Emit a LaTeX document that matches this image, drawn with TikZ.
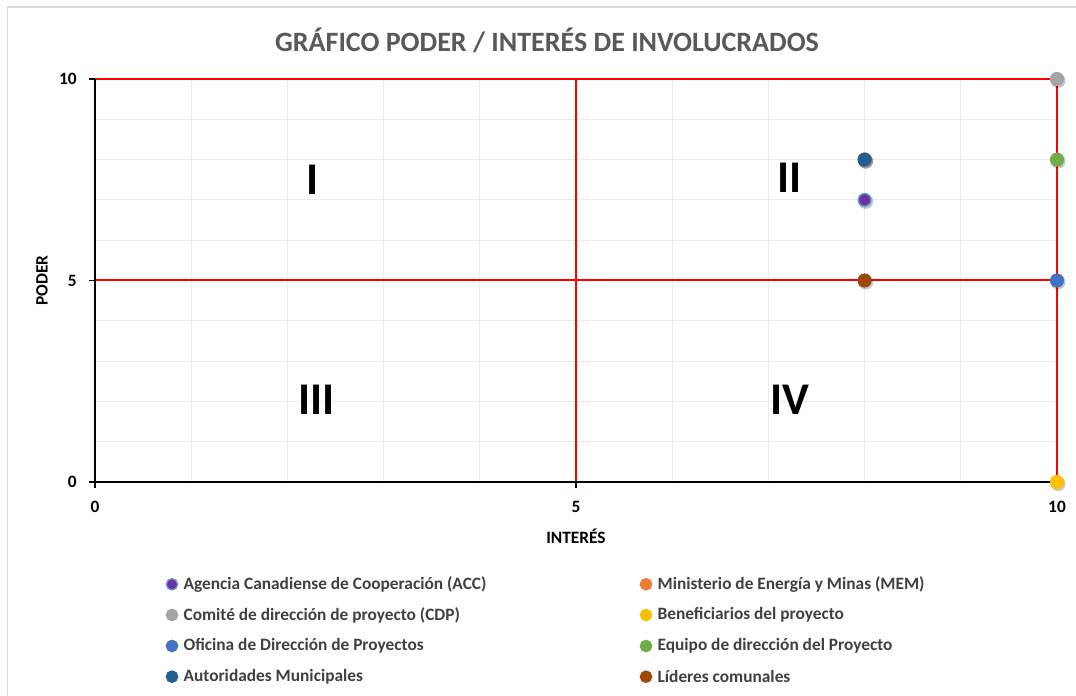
\documentclass[tikz,border=0pt]{standalone}
\usepackage{fontspec}
\setmainfont{Carlito}
\usetikzlibrary{positioning}
\definecolor{titgray}{HTML}{595959}
\definecolor{leggray}{HTML}{404040}
\definecolor{gridgray}{HTML}{EBEBEB}
\definecolor{boxgray}{HTML}{D9D9D9}
\definecolor{accpurple}{HTML}{7030A0}
\definecolor{accedge}{HTML}{5B9BD5}
\definecolor{memorange}{HTML}{ED7D31}
\definecolor{cdpgray}{HTML}{A5A5A5}
\definecolor{benyellow}{HTML}{FFC000}
\definecolor{odpblue}{HTML}{4472C4}
\definecolor{edpgreen}{HTML}{70AD47}
\definecolor{autblue}{HTML}{255E91}
\definecolor{lidbrown}{HTML}{9E480E}
\begin{document}
\begin{tikzpicture}[x=0.75pt,y=0.75pt,line join=round]
	\tikzset{every node/.style={font=\bfseries\fontsize{13}{15}\selectfont},
		pt/.style={circle,inner sep=0pt,minimum size=9.5pt,line width=1.1pt},
		legpt/.style={circle,inner sep=0pt,minimum size=8.5pt,line width=1pt},
		legtxt/.style={anchor=west,inner sep=0pt,text=leggray},
		quad/.style={font=\bfseries\fontsize{34}{40}\selectfont},
		redline/.style={red,line width=1.5pt},
		axis/.style={line width=1.1pt}}
	\useasboundingbox (0,0) rectangle (1076,696);
	\draw[boxgray,line width=1pt] (7.5,0)--(7.5,689)--(1076,689);
	\node[text=titgray,font=\bfseries\fontsize{21}{25}\selectfont] (title) at (547,656) {GRÁFICO PODER / INTERÉS DE INVOLUCRADOS};
	\begin{scope}[shift={(95,214)},x=72.15pt,y=30.225pt]
		\foreach \g in {1,...,9}{
			\draw[gridgray,line width=0.75pt] (\g,0)--(\g,10);
			\draw[gridgray,line width=0.75pt] (0,\g)--(10,\g);
		}
		\draw[redline] (0,10)--(10,10)--(10,0);
		\draw[redline] (5,0)--(5,10);
		\draw[redline] (0,5)--(10,5);
		\draw[axis] (0,10)--(0,0)--(10,0);
		\foreach \t in {0,5,10}{
			\draw[axis] (\t,0)--++(0,-4.5pt);
			\draw[axis] (0,\t)--++(-4.5pt,0);
			\node[anchor=east,inner sep=0pt] (ylab\t) at ([xshift=-13.5pt]0,\t) {\t};
			\node[inner sep=0pt] (xlab\t) at ([yshift=-18.75pt]\t,0) {\t};
		}
		\node (xtitle) at ([yshift=-40.5pt]5,0) {INTERÉS};
		\node[rotate=90] (ytitle) at ([xshift=-39.75pt]0,5) {PODER};
		\node[quad] (qI) at (2.26,7.5) {I};
		\node[quad] (qII) at (7.22,7.54) {II};
		\node[quad] (qIII) at (2.3,2.03) {III};
		\node[quad] (qIV) at (7.22,2.03) {IV};
		% involucrados
		\foreach \n/\px/\py/\c/\e in {acc/8/7/accpurple/accedge,mem/8/8/memorange/memorange,cdp/10/10/cdpgray/cdpgray,ben/10/0/benyellow/benyellow,odp/10/5/odpblue/odpblue,edp/10/8/edpgreen/edpgreen,aut/8/8/autblue/autblue,lid/8/5/lidbrown/lidbrown}{
			\fill[black,opacity=0.22] ([shift={(0.8pt,-1.2pt)}]\px,\py) circle (5.6pt);
			\node[pt,fill=\c,draw=\e] (\n) at (\px,\py) {};
		}
	\end{scope}
	% leyenda
	\foreach \n/\lx/\ly/\c/\e/\txt in {acc/172/111.7/accpurple/accedge/Agencia Canadiense de Cooperación (ACC),
		cdp/172/81/cdpgray/cdpgray/Comité de dirección de proyecto (CDP),
		odp/172/50/odpblue/odpblue/Oficina de Dirección de Proyectos,
		aut/172/19.3/autblue/autblue/Autoridades Municipales,
		mem/646/111.7/memorange/memorange/Ministerio de Energía y Minas (MEM),
		ben/646/81/benyellow/benyellow/Beneficiarios del proyecto,
		edp/646/50/edpgreen/edpgreen/Equipo de dirección del Proyecto,
		lid/646/19.3/lidbrown/lidbrown/Líderes comunales}{
		\node[legpt,fill=\c,draw=\e] (m\n) at (\lx,\ly) {};
		\node[legtxt,right=3.75pt of m\n] (t\n) {\txt};
	}
\end{tikzpicture}
\end{document}
